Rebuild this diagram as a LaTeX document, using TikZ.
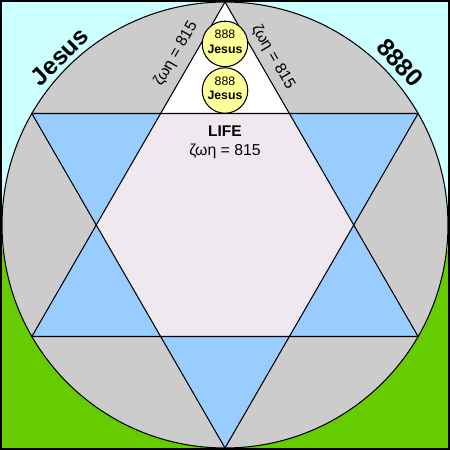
\documentclass[tikz,border=0pt]{standalone}
\usepackage{fontspec}
\setmainfont{Liberation Sans}
\usetikzlibrary{positioning}
\definecolor{skyCyan}{RGB}{204,255,255}
\definecolor{hillGreen}{RGB}{102,204,0}
\definecolor{ringGray}{RGB}{204,204,204}
\definecolor{starBlue}{RGB}{153,204,255}
\definecolor{hexPale}{RGB}{239,233,239}
\definecolor{coinYellow}{RGB}{255,255,153}
\newcommand{\cointext}{\raisebox{0.9mm}{\shortstack{888\\[0.5pt]\textbf{Jesus}}}}

\begin{document}
\begin{tikzpicture}[
    line width=0.6pt,
    coin/.style={circle, draw, fill=coinYellow, minimum size=0.91cm,
                 inner sep=0pt, font=\fontsize{7}{7.5}\selectfont},
    arcword/.style={font=\fontsize{14}{14}\bfseries\selectfont},
    zoe/.style={font=\fontsize{9}{9}\selectfont},
  ]
  \useasboundingbox (-4.5,-4.5) rectangle (4.5,4.5);
  % sky and hill
  \fill[skyCyan] (-4.5,-4.5) rectangle (4.5,4.5);
  \fill[hillGreen] (-4.5,-4.5) rectangle (4.5,-0.5);
  % ring
  \filldraw[fill=ringGray] (0,0) circle (4.46);
  % star points
  \coordinate (T) at (90:4.46);
  \coordinate (BL) at (210:4.46);
  \coordinate (BR) at (330:4.46);
  \coordinate (B) at (270:4.46);
  \coordinate (TR) at (30:4.46);
  \coordinate (TL) at (150:4.46);
  \fill[starBlue] (T) -- (BL) -- (BR) -- cycle;
  \fill[starBlue] (B) -- (TR) -- (TL) -- cycle;
  \fill[hexPale] (0:2.575) -- (60:2.575) -- (120:2.575) -- (180:2.575)
    -- (240:2.575) -- (300:2.575) -- cycle;
  \fill[white] (T) -- (120:2.575) -- (60:2.575) -- cycle;
  \draw (T) -- (BL) -- (BR) -- cycle;
  \draw (B) -- (TR) -- (TL) -- cycle;
  % frame
  \draw[line width=0.9pt] (-4.48,-4.48) rectangle (4.48,4.48);
  % words round the ring
  \node[arcword, rotate=44.5] (jesus) at (134.5:4.72) {Jesus};
  \node[arcword, rotate=-47] (num) at (42.8:4.77) {8880};
  \node[zoe, rotate=60] (zoeL) at (-0.98,3.42) {ζωη = 815};
  \node[zoe, rotate=-60] (zoeR) at (0.96,3.36) {ζωη = 815};
  % coins in the top point
  \node[coin] (lowc) at (0,2.69) {\cointext};
  \node[coin, above=0pt of lowc] (upc) {\cointext};
  % centre
  \node[font=\fontsize{8.8}{9}\bfseries\selectfont] (life) at (0,1.88) {LIFE};
  \node[zoe] (zoeC) at (0,1.47) {ζωη = 815};
\end{tikzpicture}
\end{document}
